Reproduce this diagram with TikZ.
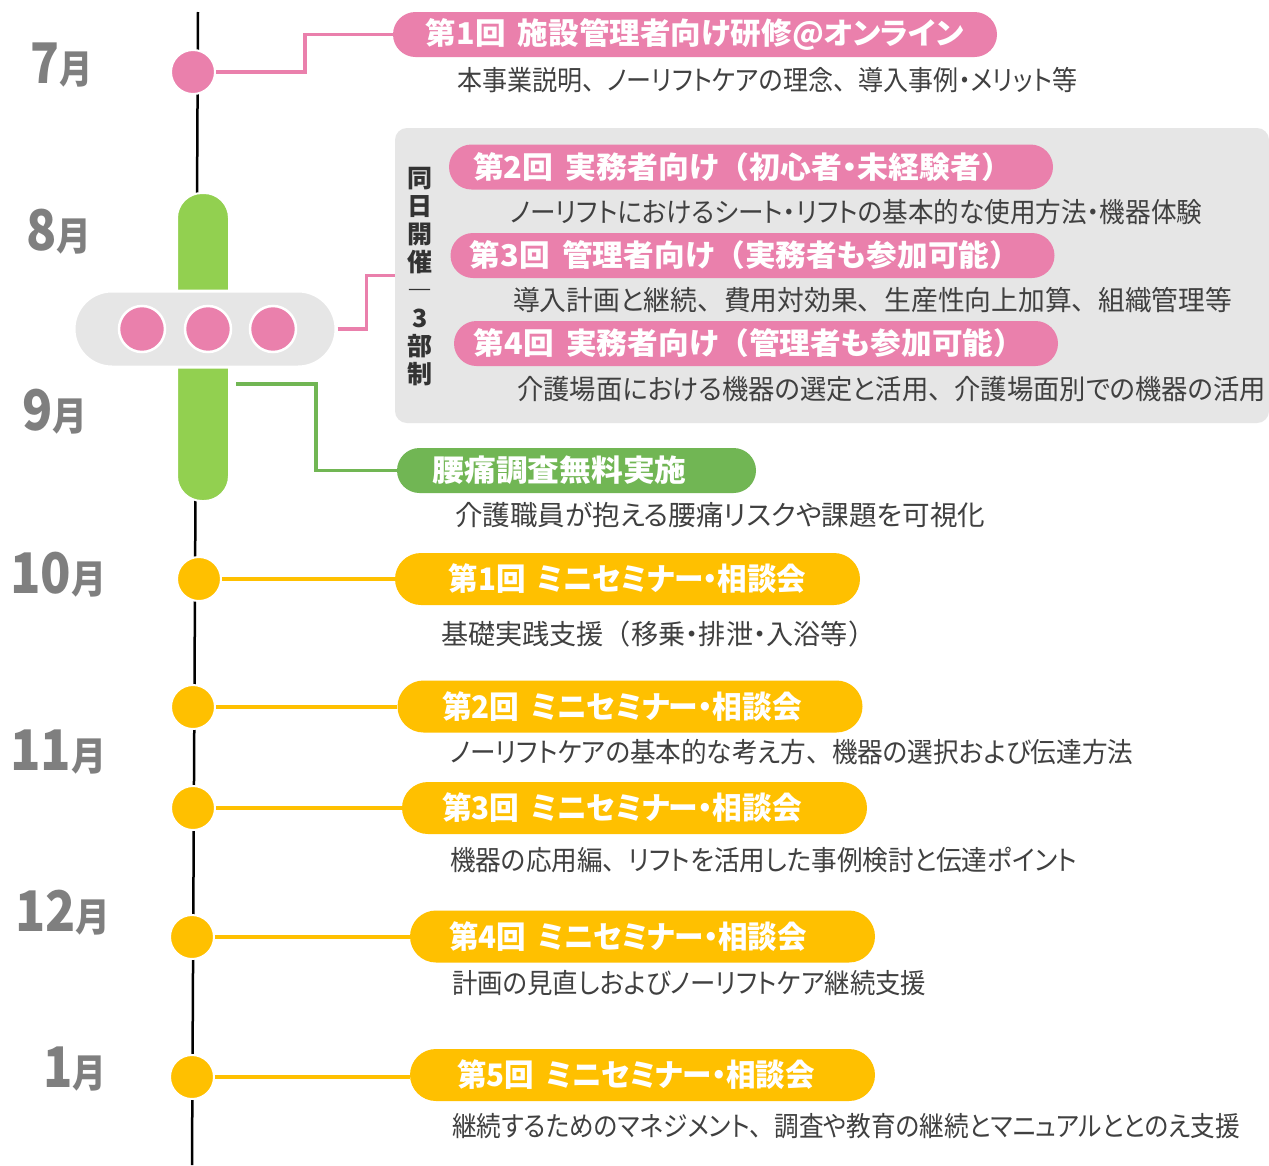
\documentclass[tikz,border=0pt]{standalone}
\usepackage{fontspec}
\setmainfont{Noto Sans CJK JP}[RawFeature=+palt]
\newfontfamily\fwf{Noto Sans CJK JP}
\newcommand{\jtc}{{\fwf 、}}
\newcommand{\jlp}{{\fwf （}}
\newcommand{\jrp}{{\fwf ）}}
\newcommand{\kgap}{\hspace{0.4em}}
\definecolor{pinkc}{HTML}{EA80AC}
\definecolor{greenc}{HTML}{92D050}
\definecolor{greend}{HTML}{71B654}
\definecolor{yellc}{HTML}{FFC000}
\definecolor{grayb}{HTML}{E6E6E6}
\definecolor{monthc}{HTML}{7F7F7F}
\definecolor{descc}{HTML}{404040}
\definecolor{vtc}{HTML}{333333}
\newcommand{\fitw}[2]{\resizebox{#1}{\height}{#2}}
\begin{document}
\begin{tikzpicture}[x=1pt,y=-1pt,
  lab/.style={inner sep=0pt, text=white, font=\bfseries\fontsize{30}{33}\selectfont},
  pinklab/.style={lab, fill=pinkc, minimum height=45pt, rounded corners=22.5pt, minimum width=604pt},
  yellab/.style={lab, fill=yellc, minimum height=52pt, rounded corners=26pt, minimum width=465pt, font=\bfseries\fontsize{31}{34}\selectfont},
  greenlab/.style={lab, fill=greend, minimum height=45pt, rounded corners=22.5pt, minimum width=359pt, font=\bfseries\fontsize{30}{33}\selectfont},
  desc/.style={anchor=west, inner sep=0pt, text=descc, font=\fontsize{27.5}{30}\selectfont},
  month/.style={anchor=base west, inner sep=0pt, text=monthc, font=\bfseries},
  dot/.style={circle, draw=white, line width=2pt, minimum size=44pt, inner sep=0pt},
  pdot/.style={circle, fill=pinkc, draw=white, line width=2.5pt, minimum size=46pt, inner sep=0pt},
  pconn/.style={draw=pinkc, line width=3.5pt},
  gconn/.style={draw=greend, line width=3.5pt},
  yconn/.style={draw=yellc, line width=3.5pt},
]
\useasboundingbox[fill=white] (0,0) rectangle (1269,1165);

% timeline
\coordinate (tTop) at (198,12);
\coordinate (tBot) at (192,1165);
\draw[line width=2.5pt] (tTop) -- (tBot);

% gray box
\node[fill=grayb, rounded corners=12pt, minimum width=874pt, minimum height=295pt, inner sep=0pt] (gbox) at (832,275.5) {};
\node[font=\bfseries\fontsize{25}{28}\selectfont, text=vtc, align=center, inner sep=0pt] (vt) at (420,276.5)
  {同\\日\\開\\催\\―\\3\\部\\制};

% pills
\node[fill=greenc, draw=white, line width=2pt, rounded corners=25pt, minimum width=52pt, minimum height=308pt, inner sep=0pt] (gpill) at (203,347) {};
\node[fill=grayb, draw=white, line width=3pt, rounded corners=38pt, minimum width=262pt, minimum height=76pt, inner sep=0pt] (gp) at (205,329) {};
\node[pdot] (p1) at (142,329) {};
\node[pdot] (p2) at (208,329) {};
\node[pdot] (p3) at (273,329) {};

% circles
\node[dot, fill=pinkc] (c7) at (193,72) {};
\node[dot, fill=yellc] (y1) at (199,579) {};
\node[dot, fill=yellc] (y2) at (193,707) {};
\node[dot, fill=yellc] (y3) at (193,808) {};
\node[dot, fill=yellc] (y4) at (192,937) {};
\node[dot, fill=yellc] (y5) at (192,1077) {};

% months
\node[month] (m7) at (30,83) {\fitw{62pt}{\fontsize{56}{56}\selectfont 7\fontsize{39}{39}\selectfont 月}};
\node[month] (m8) at (26,250) {\fitw{65pt}{\fontsize{56}{56}\selectfont 8\fontsize{39}{39}\selectfont 月}};
\node[month] (m9) at (22,430) {\fitw{65pt}{\fontsize{56}{56}\selectfont 9\fontsize{39}{39}\selectfont 月}};
\node[month] (m10) at (10,593) {\fitw{96pt}{\fontsize{56}{56}\selectfont 10\fontsize{39}{39}\selectfont 月}};
\node[month] (m11) at (10,770) {\fitw{96pt}{\fontsize{56}{56}\selectfont 11\fontsize{39}{39}\selectfont 月}};
\node[month] (m12) at (15,931) {\fitw{95pt}{\fontsize{56}{56}\selectfont 12\fontsize{39}{39}\selectfont 月}};
\node[month] (m1) at (43,1087) {\fitw{63pt}{\fontsize{56}{56}\selectfont 1\fontsize{39}{39}\selectfont 月}};

% labels
\node[pinklab] (L1) at (695,34.5) {\fitw{538pt}{第1回\kgap 施設管理者向け研修@オンライン}};
\node[pinklab] (L2) at (751,167) {\fitw{539pt}{第2回\kgap 実務者向け\jlp 初心者・未経験者\jrp}\hspace*{17pt}};
\node[pinklab] (L3) at (752.5,255.5) {\fitw{550pt}{第3回\kgap 管理者向け\jlp 実務者も参加可能\jrp}\hspace*{15pt}};
\node[pinklab] (L4) at (756,343.5) {\fitw{550pt}{第4回\kgap 実務者向け\jlp 管理者も参加可能\jrp}\hspace*{14pt}};
\node[greenlab] (Lg) at (576.5,470.5) {\fitw{254pt}{腰痛調査無料実施}\hspace*{34pt}};
\node[yellab] (Ly1) at (627.5,579) {\fitw{358pt}{第1回\kgap ミニセミナー・相談会}};
\node[yellab] (Ly2) at (630,706.5) {\fitw{360pt}{第2回\kgap ミニセミナー・相談会}\hspace*{16pt}};
\node[yellab] (Ly3) at (634.5,808) {\fitw{360pt}{第3回\kgap ミニセミナー・相談会}\hspace*{25pt}};
\node[yellab] (Ly4) at (642.5,936.5) {\fitw{358pt}{第4回\kgap ミニセミナー・相談会}\hspace*{29pt}};
\node[yellab] (Ly5) at (642.5,1075) {\fitw{358pt}{第5回\kgap ミニセミナー・相談会}\hspace*{13pt}};

% descriptions
\node[desc] (d1) at (457,80) {\fitw{620pt}{本事業説明\jtc ノーリフトケアの理念\jtc 導入事例・メリット等}};
\node[desc] (d2) at (510,212) {\fitw{692pt}{ノーリフトにおけるシート・リフトの基本的な使用方法・機器体験}};
\node[desc] (d3) at (513,300) {\fitw{719pt}{導入計画と継続\jtc 費用対効果\jtc 生産性向上加算\jtc 組織管理等}};
\node[desc] (d4) at (517,389) {\fitw{749pt}{介護場面における機器の選定と活用\jtc 介護場面別での機器の活用}};
\node[desc] (dg) at (455,515) {\fitw{530pt}{介護職員が抱える腰痛リスクや課題を可視化}};
\node[desc] (dy1) at (441,634) {\fitw{434pt}{基礎実践支援\jlp 移乗・排泄・入浴等\jrp}};
\node[desc] (dy2) at (450,752) {\fitw{683pt}{ノーリフトケアの基本的な考え方\jtc 機器の選択および伝達方法}};
\node[desc] (dy3) at (450,860) {\fitw{627pt}{機器の応用編\jtc リフトを活用した事例検討と伝達ポイント}};
\node[desc] (dy4) at (452,983) {\fitw{474pt}{計画の見直しおよびノーリフトケア継続支援}};
\node[desc] (dy5) at (452,1126) {\fitw{788pt}{継続するためのマネジメント\jtc 調査や教育の継続とマニュアルととのえ支援}};

% connectors
\draw[pconn] (c7.east) -- ++(89,0) |- (L1.west);
\draw[pconn] (gp.east) -- ++(29,0) |- (gbox.west);
\coordinate (gs) at (236,384);
\draw[gconn] (gs) -- ++(80,0) |- (Lg.west);
\draw[yconn] (y1.east) -- (y1.east -| Ly1.west);
\draw[yconn] (y2.east) -- (y2.east -| Ly2.west);
\draw[yconn] (y3.east) -- (y3.east -| Ly3.west);
\draw[yconn] (y4.east) -- (y4.east -| Ly4.west);
\draw[yconn] (y5.east) -- (y5.east -| Ly5.west);
\end{tikzpicture}
\end{document}
